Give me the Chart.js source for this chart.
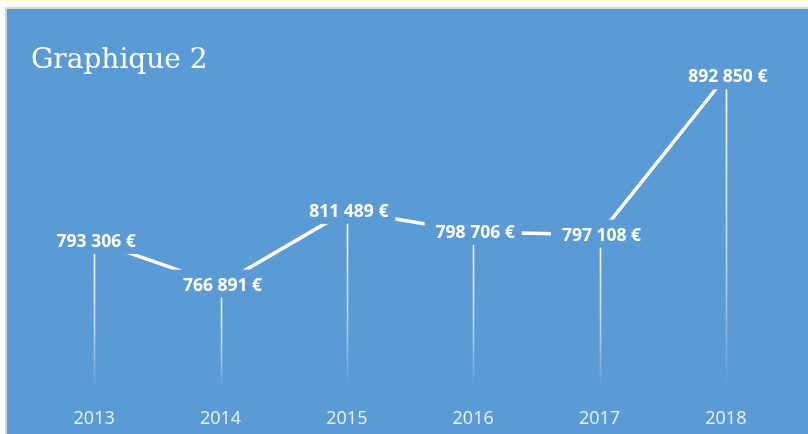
<!DOCTYPE html>
<html lang="fr">
<head>
<meta charset="utf-8">
<title>Graphique 2</title>
<script src="https://cdn.jsdelivr.net/npm/chart.js@4.4.1/dist/chart.umd.min.js"></script>
<style>
  html, body { margin: 0; padding: 0; background: #ffffff; }
  body { width: 808px; height: 434px; position: relative; overflow: hidden; }
  #strip { position: absolute; left: 0; top: 0; width: 808px; height: 1px; background: #fff9cc; }
  #frame {
    position: absolute; left: 5px; top: 7px; right: 0; bottom: 0;
    background: #5b9bd5;
    border-left: 2px solid #d2d2d2;
    border-top: 2px solid #d8d8d8;
  }
  #chart { position: absolute; left: 0; top: 0; }
</style>
</head>
<body>
<div id="strip"></div>
<div id="frame"></div>
<canvas id="chart" width="808" height="434"></canvas>
<script>
const years = ["2013", "2014", "2015", "2016", "2017", "2018"];
const amounts = [793306, 766891, 811489, 798706, 797108, 892850];

const bgBlue = "#5b9bd5";

function euro(v) {
    return String(v).replace(/\B(?=(\d{3})+(?!\d))/g, " ") + " €";
}

// lignes de rappel qui descendent de chaque point, en dégradé
const dropLines = {
    id: "dropLines",
    beforeDatasetsDraw(chart) {
        const ctx = chart.ctx;
        const bottom = chart.chartArea.bottom - 6;
        chart.getDatasetMeta(0).data.forEach(pt => {
            const grad = ctx.createLinearGradient(0, pt.y, 0, bottom);
            grad.addColorStop(0, "rgba(255,255,255,1)");
            grad.addColorStop(0.6, "rgba(255,255,255,0.6)");
            grad.addColorStop(1, "rgba(255,255,255,0)");
            ctx.save();
            ctx.strokeStyle = grad;
            ctx.lineWidth = 1.6;
            ctx.beginPath();
            ctx.moveTo(Math.round(pt.x) + 0.5, pt.y);
            ctx.lineTo(Math.round(pt.x) + 0.5, bottom);
            ctx.stroke();
            ctx.restore();
        });
    }
};

// étiquettes de valeurs avec fond bleu (coupe la ligne)
const valueLabels = {
    id: "valueLabels",
    afterDatasetsDraw(chart) {
        const ctx = chart.ctx;
        ctx.save();
        ctx.font = "bold 17.5px 'Open Sans'";
        ctx.textAlign = "center";
        ctx.textBaseline = "middle";
        chart.getDatasetMeta(0).data.forEach((pt, i) => {
            const txt = euro(amounts[i]);
            const w = ctx.measureText(txt).width + 18;
            ctx.fillStyle = bgBlue;
            ctx.fillRect(pt.x - w / 2, pt.y - 15, w, 28);
            ctx.fillStyle = "#ffffff";
            ctx.fillText(txt, pt.x + 2, pt.y + 1);
        });
        ctx.restore();
    }
};

const ctx = document.getElementById("chart").getContext("2d");
new Chart(ctx, {
    type: "line",
    data: {
        labels: years,
        datasets: [{
            data: amounts,
            borderColor: "#ffffff",
            borderWidth: 3.5,
            borderCapStyle: "round",
            pointRadius: 0,
            tension: 0,
            fill: false
        }]
    },
    options: {
        responsive: false,
        animation: false,
        events: [],
        layout: { padding: { left: 31, right: 19, top: 0, bottom: 4 } },
        plugins: {
            legend: { display: false },
            tooltip: { enabled: false },
            title: {
                display: true,
                text: "Graphique 2",
                align: "start",
                color: "#ffffff",
                font: { family: "'DejaVu Serif'", size: 28, weight: "normal", lineHeight: 1 },
                padding: { top: 47, bottom: -10.3 }
            }
        },
        scales: {
            x: {
                offset: true,
                grid: { display: false, drawTicks: false },
                border: { display: false },
                ticks: {
                    color: "rgba(255,255,255,0.88)",
                    font: { family: "'Open Sans'", size: 18 },
                    padding: 13
                },
                afterFit(axis) {
                    axis.height = 35;
                }
            },
            y: {
                display: false,
                min: 700000,
                max: 900000
            }
        }
    },
    plugins: [dropLines, valueLabels]
});
</script>
</body>
</html>
